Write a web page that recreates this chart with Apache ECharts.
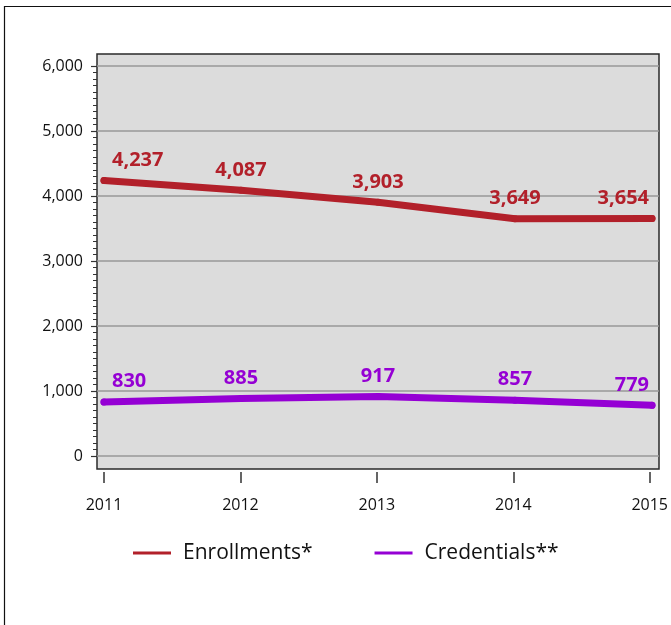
<!DOCTYPE html>
<html>
<head>
<meta charset="utf-8">
<script src="https://cdn.jsdelivr.net/npm/echarts@6/dist/echarts.min.js"></script>
<style>html,body{margin:0;padding:0;background:#fff}#c{width:671px;height:625px}</style>
</head>
<body>
<div id="c"></div>
<script>
const years = ['2011', '2012', '2013', '2014', '2015'];
const enrollments = [4237, 4087, 3903, 3649, 3654];
const credentials = [830, 885, 917, 857, 779];
const yTicks = [0, 1000, 2000, 3000, 4000, 5000, 6000];
const seriesNames = ['Enrollments*', 'Credentials**'];

const RED = '#b2202a';
const PURPLE = '#9500d4';
const FONT = 'Open Sans';

function buildData(vals) {
  const n = vals.length;
  return vals.map((v, i) => {
    const item = { value: v };
    if (i === 0) item.label = { align: 'left', offset: [8, 0] };
    else if (i === n - 1) item.label = { align: 'right', offset: [-3, 0] };
    return item;
  });
}

function lineSeries(name, vals, color) {
  return {
    name: name,
    type: 'line',
    xAxisIndex: 1,
    yAxisIndex: 1,
    data: buildData(vals),
    symbol: 'circle',
    symbolSize: 7,
    showSymbol: true,
    smooth: false,
    color: color,
    itemStyle: { color: color, borderWidth: 0 },
    lineStyle: { color: color, width: 7, cap: 'round', join: 'round' },
    label: {
      show: true,
      position: 'top',
      distance: 7,
      color: color,
      fontFamily: FONT,
      fontWeight: 'bold',
      fontSize: 20,
      formatter: p => p.value.toLocaleString('en-US')
    },
    z: 5
  };
}

const chart = echarts.init(document.getElementById('c'), null, { renderer: 'canvas' });
chart.setOption({
  animation: false,
  backgroundColor: '#fff',
  grid: [
    { left: 97, right: 12, top: 66, bottom: 169, containLabel: false },
    { left: 104, right: 19, top: 66, bottom: 169, containLabel: false },
    { left: 97, right: 12, top: 54, bottom: 156, show: true, backgroundColor: '#dcdcdc',
      borderColor: '#2a2a2a', borderWidth: 1.5, containLabel: false },
    { left: 104, right: 19, top: 100, bottom: 153, containLabel: false }
  ],
  xAxis: [
    { gridIndex: 0, type: 'value', min: 0, max: 1, show: false },
    { gridIndex: 1, type: 'category', data: years, boundaryGap: false, show: false },
    { gridIndex: 2, type: 'value', min: 0, max: 1, show: false },
    { gridIndex: 3, type: 'category', data: years, boundaryGap: false, position: 'bottom',
      axisLine: { show: false },
      axisTick: { show: true, length: 11, lineStyle: { color: '#333', width: 1.5 } },
      axisLabel: { color: '#111', fontFamily: FONT, fontSize: 16, margin: 25 },
      splitLine: { show: false } }
  ],
  yAxis: [
    { gridIndex: 0, type: 'value', min: yTicks[0], max: yTicks[yTicks.length - 1], interval: 1000,
      axisLine: { show: false },
      axisTick: { show: true, length: 6, lineStyle: { color: '#333', width: 1.2 } },
      minorTick: { show: true, splitNumber: 10, length: 4, lineStyle: { color: '#333', width: 1 } },
      axisLabel: { color: '#111', fontFamily: FONT, fontSize: 16, margin: 14,
        formatter: v => v.toLocaleString('en-US') },
      splitLine: { show: true, lineStyle: { color: '#999', width: 1.5 } } },
    { gridIndex: 1, type: 'value', min: yTicks[0], max: yTicks[yTicks.length - 1], show: false },
    { gridIndex: 2, type: 'value', min: 0, max: 1, show: false },
    { gridIndex: 3, type: 'value', min: 0, max: 1, show: false }
  ],
  legend: {
    data: seriesNames.map(n => ({ name: n, icon: 'rect' })),
    left: 133,
    top: 541,
    padding: 0,
    itemWidth: 38,
    itemHeight: 3,
    itemGap: 62,
    textStyle: { color: '#111', fontFamily: FONT, fontSize: 21, lineHeight: 24, padding: [0, 0, 0, 7] }
  },
  graphic: [
    { type: 'polyline', shape: { points: [[4.5, 625], [4.5, 6.5], [671, 6.5]] },
      style: { stroke: '#111', lineWidth: 1.2, fill: null }, silent: true }
  ],
  series: [
    lineSeries(seriesNames[0], enrollments, RED),
    lineSeries(seriesNames[1], credentials, PURPLE)
  ]
});
</script>
</body>
</html>
